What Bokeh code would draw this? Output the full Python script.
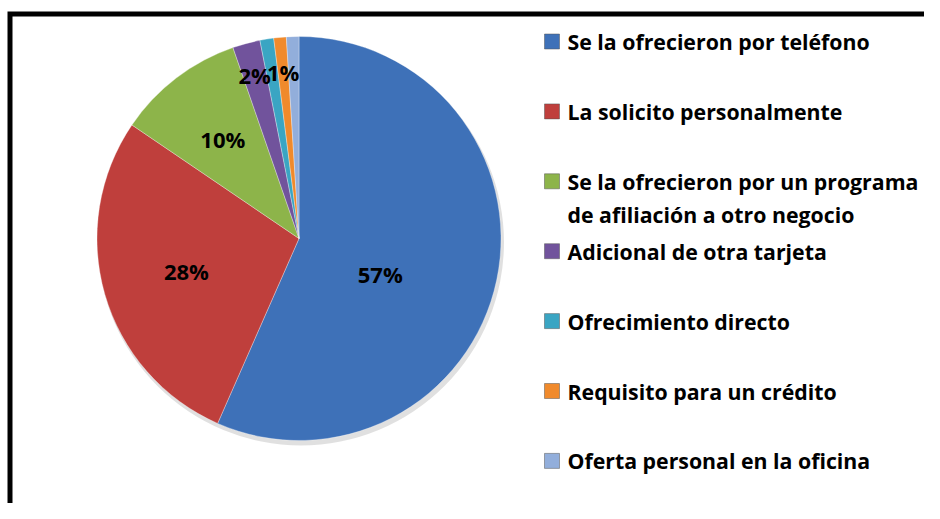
import math
from bokeh.plotting import figure
from bokeh.models import Range1d
from bokeh.core.properties import value
from bokeh.embed import file_html
from bokeh.resources import INLINE

# ---- data ----
categories = [
    "Se la ofrecieron por teléfono",
    "La solicito personalmente",
    "Se la ofrecieron por un programa\nde afiliación a otro negocio",
    "Adicional de otra tarjeta",
    "Ofrecimiento directo",
    "Requisito para un crédito",
    "Oferta personal en la oficina",
]
shares = [56.6, 27.9, 10.2, 2.2, 1.1, 1.0, 1.0]
pct_labels = ["57%", "28%", "10%", "2%", "", "1%", ""]
colors = ["#3E71B8", "#BF3F3C", "#8DB44A", "#71539C", "#3AA5C3", "#F08A2C", "#92AEDB"]

W, H = 924, 503
p = figure(width=W, height=H, output_backend="svg", toolbar_location=None,
           x_range=Range1d(0, W), y_range=Range1d(0, H), min_border=0)
p.axis.visible = False
p.grid.visible = False
p.outline_line_color = None
p.background_fill_color = "white"
p.border_fill_color = "white"

def to_x(img_x):
    return img_x

def to_y(img_y):
    return H - img_y

# frame (only left/top edges fall inside the window)
p.line(x=[to_x(9.5), to_x(9.5), to_x(1000)], y=[to_y(1000), to_y(13.5), to_y(13.5)],
       line_color="black", line_width=5, line_join="miter")

cx, cy, r = to_x(298.5), to_y(238), 202

# soft shadow
p.circle(x=cx + 2, y=cy - 4, radius=r + 1, fill_color="#000000", fill_alpha=0.12, line_color=None)

total = sum(shares)
starts, ends, mids = [], [], []
acc = 0.0
for s in shares:
    a0 = math.pi / 2 - 2 * math.pi * acc / total
    acc += s
    a1 = math.pi / 2 - 2 * math.pi * acc / total
    starts.append(a0)
    ends.append(a1)
    mids.append((a0 + a1) / 2)

p.wedge(x=[cx] * len(shares), y=[cy] * len(shares), radius=r,
        start_angle=starts, end_angle=ends, direction="clock",
        fill_color=colors, line_color="#ffffff", line_width=0.8, line_alpha=0.4)

# label placement (radial fraction, angular nudge in degrees)
fracs = [0.44, 0.58, 0.62, 0.84, 0.84, 0.83, 0.84]
nudges = [-12, 0, 0, 0, 0, 0, 0]
lx = [cx + f * r * math.cos(m + math.radians(n)) for f, m, n in zip(fracs, mids, nudges)]
ly = [cy + f * r * math.sin(m + math.radians(n)) for f, m, n in zip(fracs, mids, nudges)]
p.text(x=lx, y=ly, text=pct_labels, text_align="center", text_baseline="middle",
       text_font=value("Open Sans"), text_font_style="bold", text_font_size="22px",
       text_color="black")

# legend
mx, tx = to_x(551.5), to_x(567)
step = 69.9
y0 = 41
line_gap = 33
sq_x, sq_y, sq_c = [], [], []
t_x, t_y, t_t = [], [], []
for i, (lab, col) in enumerate(zip(categories, colors)):
    yy = y0 + i * step
    sq_x.append(mx)
    sq_y.append(to_y(yy))
    sq_c.append(col)
    for j, line in enumerate(lab.split("\n")):
        t_x.append(tx)
        t_y.append(to_y(yy + j * line_gap))
        t_t.append(line)
p.rect(x=sq_x, y=sq_y, width=15, height=15, fill_color=sq_c, line_color="#555555", line_width=0.5)
p.text(x=t_x, y=t_y, text=t_t, text_align="left", text_baseline="middle",
       text_font=value("Open Sans"), text_font_style="bold", text_font_size="21.3px",
       text_color="black")

open("out.html", "w").write(file_html(p, INLINE))
